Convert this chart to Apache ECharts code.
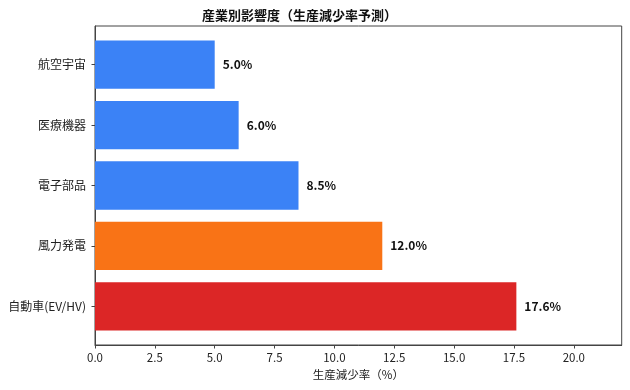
<!DOCTYPE html>
<html>
<head>
<meta charset="utf-8">
<script src="https://cdn.jsdelivr.net/npm/echarts@6/dist/echarts.min.js"></script>
<style>
html,body{margin:0;padding:0;background:#fff;}
#chart{width:630px;height:390px;}
</style>
</head>
<body>
<div id="chart"></div>
<script>
const titleText = '産業別影響度（生産減少率予測）';
const xAxisName = '生産減少率（%）';
const categories = ['航空宇宙', '医療機器', '電子部品', '風力発電', '自動車(EV/HV)'];
const values = [5.0, 6.0, 8.5, 12.0, 17.6];
const barColors = ['#3b82f6', '#3b82f6', '#3b82f6', '#f97316', '#dc2626'];
const xTicks = [0, 2.5, 5, 7.5, 10, 12.5, 15, 17.5, 20];
const xMax = 22;

const FONT = '"Noto Sans CJK JP", "Noto Sans", sans-serif';
const chart = echarts.init(document.getElementById('chart'), null, {renderer: 'canvas'});

chart.setOption({
  animation: false,
  backgroundColor: '#ffffff',
  textStyle: {fontFamily: FONT},
  title: {
    text: titleText,
    left: 197,
    top: 3.5,
    textStyle: {fontFamily: FONT, fontSize: 13, fontWeight: 'bold', color: '#111'}
  },
  grid: [
    {left: 95, right: 8.3, top: 34.5, bottom: 53.5, containLabel: false},
    {left: 95, right: 8.3, top: 26, bottom: 45, containLabel: false, show: true,
     borderColor: '#444', borderWidth: 1, backgroundColor: 'transparent'}
  ],
  xAxis: [
    {type: 'value', gridIndex: 0, min: 0, max: xMax, show: false},
    {type: 'value', gridIndex: 1, min: 0, max: xMax,
     name: xAxisName, nameLocation: 'middle', nameGap: 23,
     nameTextStyle: {fontFamily: FONT, fontSize: 11.5, color: '#222'},
     axisLine: {show: true, lineStyle: {color: '#444', width: 1}},
     axisTick: {show: true, inside: false, length: 3.5, lineStyle: {color: '#444'}, customValues: xTicks},
     axisLabel: {show: true, margin: 7, fontSize: 11.5, color: '#222', fontFamily: FONT,
                 customValues: xTicks, formatter: v => Number(v).toFixed(1)},
     splitLine: {show: false}}
  ],
  yAxis: [
    {type: 'category', gridIndex: 0, data: categories, inverse: true,
     axisLine: {show: false},
     axisTick: {show: true, inside: false, length: 3.5, alignWithLabel: true, lineStyle: {color: '#444'}},
     axisLabel: {margin: 9, fontSize: 12, color: '#222', fontFamily: FONT},
     splitLine: {show: false}},
    {type: 'value', gridIndex: 1, min: 0, max: 1,
     axisLine: {show: true, lineStyle: {color: '#444', width: 1}},
     axisTick: {show: false}, axisLabel: {show: false}, splitLine: {show: false}}
  ],
  series: [{
    type: 'bar',
    xAxisIndex: 0,
    yAxisIndex: 0,
    barWidth: '80%',
    data: values.map((v, i) => ({value: v, itemStyle: {color: barColors[i]}})),
    label: {
      show: true,
      position: 'right',
      distance: 8,
      formatter: p => p.value.toFixed(1) + '%',
      fontFamily: FONT,
      fontSize: 12,
      fontWeight: 'bold',
      color: '#111'
    }
  }]
});
</script>
</body>
</html>
